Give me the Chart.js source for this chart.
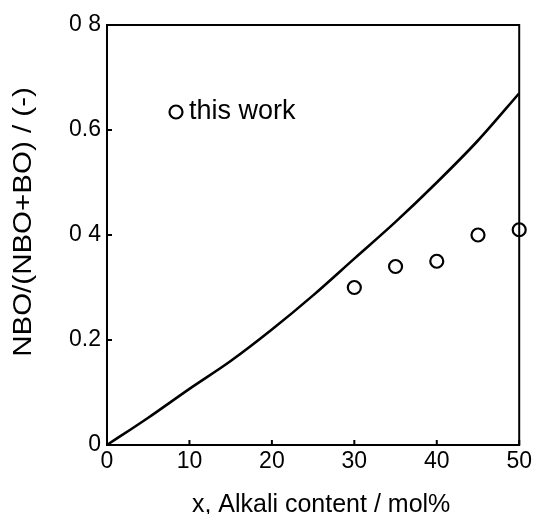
<!DOCTYPE html>
<html>
<head>
<meta charset="utf-8">
<script src="https://cdn.jsdelivr.net/npm/chart.js@4/dist/chart.umd.min.js"></script>
<style>
  html, body { margin: 0; padding: 0; background: #fff; }
  #wrap { width: 535px; height: 514px; }
</style>
</head>
<body>
<div id="wrap"><canvas id="nboChart" width="535" height="514"></canvas></div>
<script>
// model curve (solid line)
var xCurve = [0, 5, 10, 15, 20, 25, 30, 35, 40, 45, 50];
var yCurve = [0, 0.052, 0.107, 0.16, 0.22, 0.285, 0.355, 0.425, 0.50, 0.58, 0.67];

// measured points, "this work"
var xWork = [30, 35, 40, 45, 50];
var yWork = [0.30, 0.34, 0.35, 0.40, 0.41];

// tick labels as printed on the figure
var xTickValues = [0, 10, 20, 30, 40, 50];
var yTickValues = [0, 0.2, 0.4, 0.6, 0.8];
var yTickLabels = ['0', '0.2', '0 4', '0.6', '0 8'];

var legendLabel = 'this work';
var xTitle = 'x, Alkali content / mol%';
var yTitle = 'NBO/(NBO+BO) / (-)';
var fontFamily = '"Liberation Sans", Arial, Helvetica, sans-serif';

function toPoints(xs, ys) {
    return xs.map(function (x, i) { return { x: x, y: ys[i] }; });
}

function yLabel(value) {
    for (var i = 0; i < yTickValues.length; i++) {
        if (Math.abs(yTickValues[i] - value) < 1e-6) return yTickLabels[i];
    }
    return '';
}

// frame, inward tick marks, axis titles and the legend inside the plot
var framePlugin = {
    id: 'frame',
    afterDraw: function (chart) {
        var ctx = chart.ctx;
        var area = chart.chartArea;
        var xs = chart.scales.x;
        var ys = chart.scales.y;
        ctx.save();
        ctx.strokeStyle = '#000';
        ctx.lineWidth = 2;
        ctx.strokeRect(area.left, area.top, area.right - area.left, area.bottom - area.top);

        ctx.beginPath();
        xTickValues.forEach(function (v) {
            var px = xs.getPixelForValue(v);
            ctx.moveTo(px, area.bottom);
            ctx.lineTo(px, area.bottom - 5);
        });
        yTickValues.forEach(function (v) {
            var py = ys.getPixelForValue(v);
            ctx.moveTo(area.left, py);
            ctx.lineTo(area.left + 5, py);
        });
        ctx.stroke();

        // legend
        var lx = area.left + 69;
        var ly = area.top + 87;
        ctx.beginPath();
        ctx.fillStyle = '#fff';
        ctx.lineWidth = 2.2;
        ctx.arc(lx, ly, 6.5, 0, Math.PI * 2);
        ctx.fill();
        ctx.stroke();
        ctx.fillStyle = '#000';
        ctx.font = '27px ' + fontFamily;
        ctx.textBaseline = 'middle';
        ctx.textAlign = 'left';
        ctx.fillText(legendLabel, lx + 13, ly);

        // x title
        ctx.font = '25px ' + fontFamily;
        ctx.textAlign = 'center';
        ctx.textBaseline = 'alphabetic';
        ctx.fillText(xTitle, (area.left + area.right) / 2 + 8, 512);

        // y title, a little stretched along its length like the scan
        ctx.save();
        ctx.translate(24, (area.top + area.bottom) / 2 - 13);
        ctx.rotate(-Math.PI / 2);
        ctx.scale(1.18, 1);
        ctx.textBaseline = 'middle';
        ctx.fillText(yTitle, 0, 0);
        ctx.restore();

        ctx.restore();
    }
};

var ctx = document.getElementById('nboChart').getContext('2d');
var chart = new Chart(ctx, {
    type: 'scatter',
    data: {
        datasets: [
        {
            label: 'model',
            data: toPoints(xCurve, yCurve),
            showLine: true,
            borderColor: '#000',
            borderWidth: 2.6,
            pointRadius: 0,
            cubicInterpolationMode: 'monotone',
            fill: false
        },
        {
            label: legendLabel,
            data: toPoints(xWork, yWork),
            showLine: false,
            pointStyle: 'circle',
            pointRadius: 6.5,
            pointBorderWidth: 2.2,
            borderColor: '#000',
            backgroundColor: '#fff',
            clip: false
        }
        ]
    },
    plugins: [framePlugin],
    options: {
        responsive: false,
        devicePixelRatio: 1,
        animation: false,
        layout: { padding: { top: 25, right: 14, left: 0, bottom: 0 } },
        plugins: {
            legend: { display: false },
            tooltip: { enabled: false }
        },
        scales: {
            x: {
                type: 'linear',
                min: 0,
                max: 50,
                afterBuildTicks: function (scale) {
                    scale.ticks = xTickValues.map(function (v) { return { value: v }; });
                },
                afterFit: function (scale) { scale.height = 69; },
                grid: { display: false, drawTicks: false },
                border: { display: false },
                ticks: {
                    color: '#000',
                    padding: 3,
                    maxRotation: 0,
                    font: { family: fontFamily, size: 23 }
                }
            },
            y: {
                type: 'linear',
                min: 0,
                max: 0.8,
                afterBuildTicks: function (scale) {
                    scale.ticks = yTickValues.map(function (v) { return { value: v }; });
                },
                afterFit: function (scale) { scale.width = 107; },
                grid: { display: false, drawTicks: false },
                border: { display: false },
                ticks: {
                    color: '#000',
                    padding: 6,
                    callback: function (value) { return yLabel(value); },
                    font: { family: fontFamily, size: 23 }
                }
            }
        }
    }
});
</script>
</body>
</html>
